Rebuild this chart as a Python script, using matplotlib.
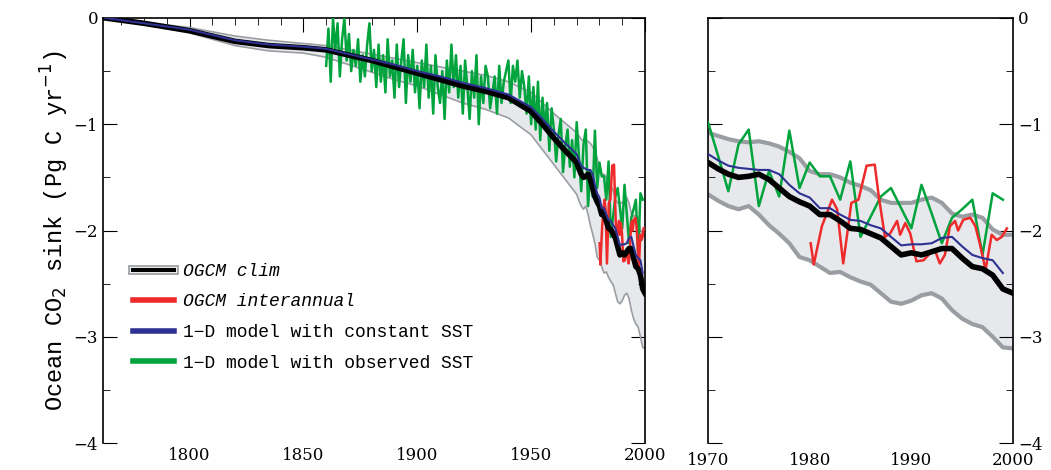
import matplotlib
matplotlib.use("Agg")
import matplotlib.pyplot as plt
import numpy as np

# --- data ---
clim_years_long = [1763, 1780, 1800, 1810, 1820, 1835, 1850, 1860, 1870, 1880, 1890, 1900, 1910, 1920, 1930, 1940, 1950, 1955, 1960, 1965]
clim_long = [0.0, -0.05, -0.12, -0.17, -0.22, -0.26, -0.28, -0.30, -0.35, -0.40, -0.46, -0.52, -0.58, -0.64, -0.69, -0.75, -0.88, -1.00, -1.13, -1.25]
band_up_long = [0.0, -0.04, -0.09, -0.13, -0.17, -0.21, -0.24, -0.26, -0.30, -0.34, -0.38, -0.42, -0.46, -0.50, -0.54, -0.60, -0.70, -0.80, -0.90, -0.99]
band_lo_long = [0.0, -0.06, -0.14, -0.20, -0.26, -0.31, -0.33, -0.37, -0.44, -0.51, -0.58, -0.64, -0.72, -0.80, -0.86, -0.94, -1.10, -1.24, -1.38, -1.52]
blue_long = [0.0, -0.05, -0.11, -0.16, -0.21, -0.25, -0.27, -0.29, -0.34, -0.39, -0.44, -0.50, -0.55, -0.61, -0.66, -0.72, -0.84, -0.95, -1.07, -1.18]

years_r = list(range(1970, 2001))
clim_r = [-1.36, -1.42, -1.47, -1.50, -1.49, -1.47, -1.52, -1.60, -1.68, -1.73, -1.77, -1.85, -1.85, -1.91, -1.98, -1.99,
          -2.03, -2.07, -2.15, -2.23, -2.21, -2.23, -2.20, -2.17, -2.17, -2.26, -2.34, -2.36, -2.42, -2.55, -2.59]
band_up_r = [-1.08, -1.11, -1.14, -1.16, -1.17, -1.16, -1.18, -1.21, -1.26, -1.32, -1.44, -1.47, -1.47, -1.50, -1.55, -1.58,
             -1.62, -1.71, -1.74, -1.74, -1.74, -1.71, -1.69, -1.74, -1.84, -1.87, -1.85, -1.88, -1.99, -2.04, -2.04]
band_lo_r = [-1.66, -1.72, -1.77, -1.80, -1.77, -1.85, -1.95, -2.03, -2.12, -2.25, -2.28, -2.34, -2.40, -2.39, -2.44, -2.48,
             -2.51, -2.59, -2.67, -2.69, -2.66, -2.61, -2.59, -2.64, -2.75, -2.83, -2.88, -2.91, -3.00, -3.10, -3.11]
blue_years_r = list(range(1970, 2000))
blue_r = [-1.28, -1.34, -1.39, -1.41, -1.42, -1.43, -1.43, -1.47, -1.57, -1.65, -1.69, -1.79, -1.79, -1.85, -1.90, -1.91,
          -1.95, -1.98, -2.06, -2.14, -2.13, -2.13, -2.12, -2.07, -2.06, -2.15, -2.23, -2.26, -2.28, -2.40]

green_years = list(range(1860, 2000))
green = [-0.45, -0.1, -0.6, 0.0, -0.3, -0.05, -0.55, -0.2, 0.0, -0.4,
         -0.15, -0.5, -0.3, -0.45, -0.2, -0.6, -0.35, -0.55, -0.25, -0.05,
         -0.5, -0.3, -0.65, -0.25, -0.6, -0.35, -0.7, -0.2, -0.55, -0.4,
         -0.75, -0.25, -0.65, -0.4, -0.2, -0.8, -0.35, -0.6, -0.3, -0.7,
         -0.45, -0.85, -0.4, -0.65, -0.25, -0.75, -0.45, -0.9, -0.35, -0.65,
         -0.8, -0.5, -0.95, -0.4, -0.7, -0.25, -0.65, -0.35, -0.75, -0.45,
         -0.9, -0.4, -0.65, -0.95, -0.5, -0.75, -0.35, -1.0, -0.55, -0.8,
         -0.45, -0.55, -0.85, -0.7, -0.55, -0.9, -0.45, -0.8, -0.6, -0.5,
         -0.4, -0.8, -0.45, -0.6, -0.4, -0.75, -0.5, -0.65, -0.9, -0.55,
         -1.0, -0.65, -1.05, -0.6, -1.15, -0.75, -1.05, -0.8, -1.25, -0.85,
         -1.05, -1.35, -1.1, -0.95, -1.45, -1.2, -1.05, -1.4, -1.15, -1.5,
         -0.98, -1.30, -1.63, -1.19, -1.05, -1.77, -1.44, -1.68, -1.06, -1.60,
         -1.36, -1.49, -1.49, -1.71, -1.35, -2.06, -1.87, -1.68, -1.60, -1.79,
         -1.98, -1.57, -1.84, -2.12, -1.88, -1.80, -1.71, -2.23, -1.65, -1.71]

red_years = [1980.1, 1980.4, 1981.2, 1982.2, 1982.7, 1983.3, 1984.1, 1984.8, 1985.6, 1986.4, 1986.8, 1987.4,
             1987.9, 1988.6, 1988.9, 1989.4, 1989.9, 1990.5, 1991.2, 1991.9, 1992.3, 1992.8, 1993.3, 1993.8,
             1994.3, 1994.6, 1995.1, 1995.8, 1996.3, 1996.8, 1997.3, 1997.9, 1998.4, 1998.9, 1999.4]
red = [-2.12, -2.32, -1.96, -1.71, -1.80, -2.31, -1.74, -1.71, -1.39, -1.38, -1.68, -2.06,
       -2.03, -1.91, -2.04, -1.93, -2.03, -2.29, -2.28, -2.21, -2.18, -2.31, -2.23, -1.96,
       -1.91, -2.00, -1.90, -1.88, -1.96, -2.15, -2.37, -2.04, -2.09, -2.06, -1.98]

labels = ["OGCM clim", "OGCM interannual", "1\u2212D model with constant SST", "1\u2212D model with observed SST"]

cy = clim_years_long + years_r
cv = clim_long + clim_r
bu = band_up_long + band_up_r
bl = band_lo_long + band_lo_r
by = clim_years_long + blue_years_r
bv = blue_long + blue_r

GREEN = "#00a33c"; RED = "#ee2a2a"; BLUE = "#2e3192"; GREY = "#9a9ea3"; FILL = "#e6e8ec"
mono = "Liberation Mono"
serif = "DejaVu Serif"

fig = plt.figure(figsize=(10.51, 4.70), dpi=100)
ax1 = fig.add_axes([103/1051, 27/470, 542/1051, 425/470])
ax2 = fig.add_axes([708/1051, 27/470, 305/1051, 425/470])

def draw(ax, lw_scale=1.0):
    ax.fill_between(cy, bu, bl, color=FILL, lw=0, zorder=1)
    ax.plot(cy, bu, color=GREY, lw=1.2*lw_scale, zorder=2)
    ax.plot(cy, bl, color=GREY, lw=1.2*lw_scale, zorder=2)
    ax.plot(green_years, green, color=GREEN, lw=1.8, zorder=3)
    ax.plot(red_years, red, color=RED, lw=1.8, zorder=4)
    ax.plot(cy, cv, color="black", lw=4, zorder=5)
    ax.plot(by, bv, color=BLUE, lw=1.5, zorder=6)

draw(ax1, 1.0)
draw(ax2, 2.5)

for ax in (ax1, ax2):
    ax.set_ylim(-4, 0)
    for s in ax.spines.values():
        s.set_linewidth(1.2)
    ax.spines["bottom"].set_visible(False)
    ax.set_yticks([-4, -3, -2, -1, 0])
    ax.set_yticks([-3.5, -2.5, -1.5, -0.5], minor=True)

ax1.set_xlim(1762, 2000)
ax1.set_xticks([1800, 1850, 1900, 1950, 2000])
ax1.set_xticks(range(1770, 2000, 10), minor=True)
ax1.tick_params(axis="x", which="both", bottom=False, top=True, direction="in", labelsize=12, pad=3)
ax1.tick_params(axis="x", which="major", length=10)
ax1.tick_params(axis="x", which="minor", length=5)
ax1.tick_params(axis="y", which="both", left=True, right=True, direction="in", labelsize=12)
ax1.tick_params(axis="y", which="major", length=10)
ax1.tick_params(axis="y", which="minor", length=5)
ax1.set_yticklabels(["\u22124", "\u22123", "\u22122", "\u22121", "0"], family=serif)
ax1.set_xticklabels([str(v) for v in [1800, 1850, 1900, 1950, 2000]], family=serif)
ax1.set_ylabel("Ocean CO$_2$ sink (Pg C yr$^{-1}$)", family=mono, fontsize=17, labelpad=2)

ax2.set_xlim(1970, 2000)
ax2.set_xticks([1970, 1980, 1990, 2000])
ax2.set_xticklabels(["1970", "1980", "1990", "2000"], family=serif)
ax2.tick_params(axis="x", which="both", bottom=False, top=False, labelsize=12, pad=3)
ax2.tick_params(axis="y", which="both", left=True, right=True, labelleft=False, labelright=True,
                direction="in", labelsize=12)
ax2.tick_params(axis="y", which="major", length=10)
ax2.tick_params(axis="y", which="minor", length=5)
ax2.set_yticklabels(["\u22124", "\u22123", "\u22122", "\u22121", "0"], family=serif)

from matplotlib.lines import Line2D
from matplotlib.legend_handler import HandlerBase

class ClimHandler(HandlerBase):
    def create_artists(self, legend, orig, xd, yd, w, h, fs, trans):
        y = h/2 - yd
        a = Line2D([-xd, -xd+w], [y, y], color=GREY, lw=7, transform=trans)
        b = Line2D([-xd, -xd+w], [y, y], color="white", lw=4.5, transform=trans)
        c = Line2D([-xd, -xd+w], [y, y], color="black", lw=3, transform=trans)
        return [a, b, c]

h0 = Line2D([], [], color="black")
h1 = Line2D([], [], color=RED, lw=4)
h2 = Line2D([], [], color=BLUE, lw=4)
h3 = Line2D([], [], color=GREEN, lw=4)
leg = ax1.legend([h0, h1, h2, h3], labels, loc="lower left", bbox_to_anchor=(0.025, 0.13),
                 frameon=False, handlelength=2.3, handletextpad=0.5, labelspacing=0.75,
                 handler_map={h0: ClimHandler()}, prop={"family": mono, "size": 13})
for i, t in enumerate(leg.get_texts()):
    if i < 2:
        t.set_style("italic")

fig.savefig("out.png", dpi=100)
